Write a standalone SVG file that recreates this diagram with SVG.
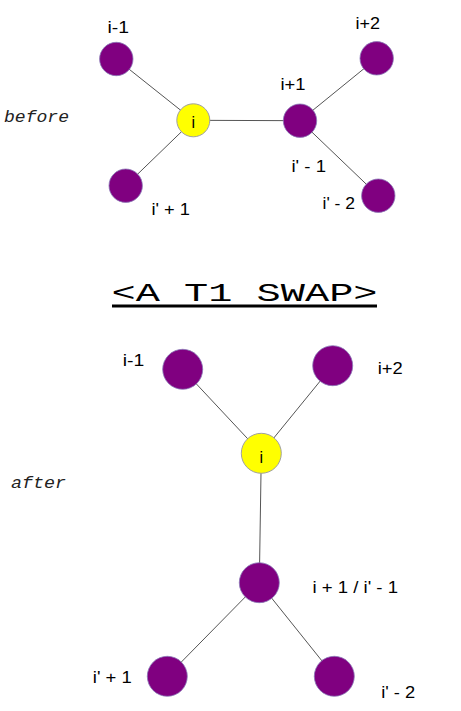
<svg xmlns="http://www.w3.org/2000/svg" width="461" height="711" viewBox="0 0 461 711">
<style>
.e{stroke:#555;stroke-width:1;fill:none}
.p{fill:#800080;stroke:#8a7ab8;stroke-width:0.8}
.y{fill:#ffff00;stroke:#a0a0a0;stroke-width:1}
.l{font-family:"Liberation Sans",Arial,sans-serif;font-size:16px;fill:#000}
.m{font-family:"Liberation Mono","Courier New",monospace;font-style:italic;font-size:16px;fill:#222}
.t{font-family:"Liberation Mono","Courier New",monospace;font-size:25px;fill:#000}
</style>
<rect width="461" height="711" fill="#fff"/>
<g id="connectors">
<line class="e" x1="116.3" y1="59" x2="193.3" y2="120.3"/>
<line class="e" x1="125.7" y1="185.7" x2="193.3" y2="120.3"/>
<line class="e" x1="193.3" y1="120.3" x2="300" y2="120.7"/>
<line class="e" x1="300" y1="120.7" x2="376.7" y2="58.3"/>
<line class="e" x1="300" y1="120.7" x2="378.3" y2="195.7"/>
<line class="e" x1="182.7" y1="369.3" x2="261.3" y2="453.3"/>
<line class="e" x1="332.7" y1="365.7" x2="261.3" y2="453.3"/>
<line class="e" x1="261.3" y1="453.3" x2="259.3" y2="582.7"/>
<line class="e" x1="259.3" y1="582.7" x2="167.3" y2="676.3"/>
<line class="e" x1="259.3" y1="582.7" x2="334.3" y2="676.3"/>
</g>
<text class="m" x="4" y="122" textLength="65" lengthAdjust="spacingAndGlyphs">before</text>
<text class="m" x="11" y="488" textLength="55" lengthAdjust="spacingAndGlyphs">after</text>
<g id="title">
<text class="t" x="111.5" y="301" textLength="266" lengthAdjust="spacingAndGlyphs">&lt;A T1 SWAP&gt;</text>
<rect x="112" y="304.5" width="265" height="3" fill="#000"/>
</g>
<g id="b-im1"><circle class="p" cx="116.3" cy="59" r="16.7"/><text class="l" x="107.5" y="33" textLength="21.5" lengthAdjust="spacingAndGlyphs">i-1</text></g>
<g id="b-i"><circle class="y" cx="193.3" cy="120.3" r="16.5"/><text class="l" x="193.3" y="128" text-anchor="middle">i</text></g>
<g id="b-ip1"><circle class="p" cx="300" cy="120.7" r="16.7"/><text class="l" x="280.5" y="90" textLength="25" lengthAdjust="spacingAndGlyphs">i+1</text></g>
<g id="b-ip2"><circle class="p" cx="376.7" cy="58.3" r="16.7"/><text class="l" x="355.5" y="29" textLength="24.5" lengthAdjust="spacingAndGlyphs">i+2</text></g>
<g id="b-ipm1"><text class="l" x="291.5" y="172" textLength="34.5" lengthAdjust="spacingAndGlyphs">i' - 1</text></g>
<g id="b-ipp1"><circle class="p" cx="125.7" cy="185.7" r="16.7"/><text class="l" x="151.5" y="215" textLength="38.5" lengthAdjust="spacingAndGlyphs">i' + 1</text></g>
<g id="b-ipm2"><circle class="p" cx="378.3" cy="195.7" r="16.7"/><text class="l" x="322.5" y="209" textLength="32.5" lengthAdjust="spacingAndGlyphs">i' - 2</text></g>
<g id="a-im1"><circle class="p" cx="182.7" cy="369.3" r="20"/><text class="l" x="122.8" y="366" textLength="21.5" lengthAdjust="spacingAndGlyphs">i-1</text></g>
<g id="a-ip2"><circle class="p" cx="332.7" cy="365.7" r="20"/><text class="l" x="377.8" y="374.3" textLength="25" lengthAdjust="spacingAndGlyphs">i+2</text></g>
<g id="a-i"><circle class="y" cx="261.3" cy="453.3" r="20"/><text class="l" x="261.3" y="463" text-anchor="middle">i</text></g>
<g id="a-mid"><circle class="p" cx="259.3" cy="582.7" r="20"/><text class="l" x="312.5" y="593.3" textLength="85.5" lengthAdjust="spacingAndGlyphs">i + 1 / i' - 1</text></g>
<g id="a-ipp1"><circle class="p" cx="167.3" cy="676.3" r="20"/><text class="l" x="92.8" y="683.3" textLength="39" lengthAdjust="spacingAndGlyphs">i' + 1</text></g>
<g id="a-ipm2"><circle class="p" cx="334.3" cy="676.3" r="20"/><text class="l" x="381.2" y="698.3" textLength="34" lengthAdjust="spacingAndGlyphs">i' - 2</text></g>
</svg>
